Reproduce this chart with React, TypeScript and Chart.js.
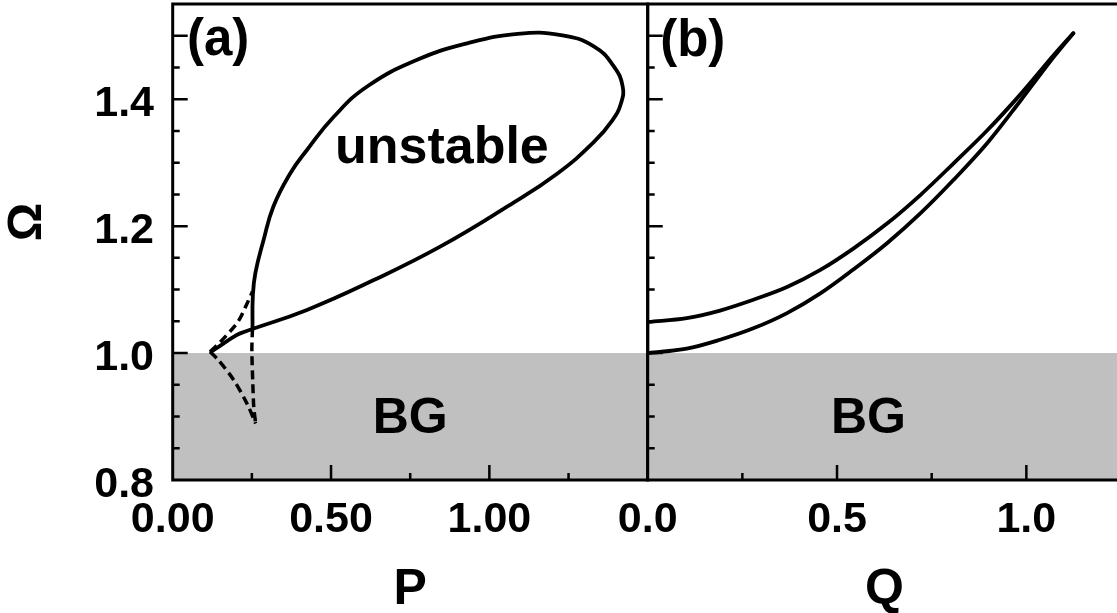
import React, { useEffect, useRef } from "react";
import { Chart, registerables } from "chart.js";

Chart.register(...registerables);

const FONT = "'Liberation Sans', Arial, Helvetica, sans-serif";

// ---------- Panel (a): Omega vs P ----------
const loopP = [0.122, 0.160, 0.191, 0.213, 0.424, 0.635, 0.846, 1.057, 1.215, 1.331, 1.389, 1.416, 1.421, 1.394, 1.331, 1.226, 1.089, 0.930, 0.772, 0.614, 0.508, 0.424, 0.371, 0.318, 0.287, 0.261, 0.253, 0.252];
const loopOmega = [1.002, 1.015, 1.025, 1.031, 1.068, 1.115, 1.168, 1.231, 1.283, 1.333, 1.367, 1.394, 1.420, 1.451, 1.483, 1.501, 1.503, 1.488, 1.462, 1.420, 1.372, 1.320, 1.283, 1.231, 1.178, 1.126, 1.089, 1.039];

const cuspUpperP = [0.118, 0.155, 0.195, 0.213, 0.232, 0.252];
const cuspUpperOmega = [1.002, 1.020, 1.042, 1.055, 1.075, 1.097];

const cuspLowerP = [0.118, 0.144, 0.192, 0.234, 0.262];
const cuspLowerOmega = [1.002, 0.989, 0.958, 0.921, 0.889];

const cuspVerticalP = [0.252, 0.250, 0.253, 0.256, 0.262];
const cuspVerticalOmega = [1.039, 1.005, 0.952, 0.915, 0.889];

// ---------- Panel (b): Omega vs Q ----------
const qValues = [0.002, 0.103, 0.191, 0.279, 0.368, 0.456, 0.544, 0.632, 0.720, 0.808, 0.897, 0.985, 1.073, 1.124];
const upperOmega = [1.049, 1.055, 1.067, 1.084, 1.104, 1.131, 1.165, 1.204, 1.249, 1.299, 1.351, 1.408, 1.470, 1.504];
const lowerOmega = [1.000, 1.007, 1.021, 1.039, 1.063, 1.094, 1.132, 1.173, 1.220, 1.273, 1.331, 1.398, 1.467, 1.504];

// band gap boundary
const bgEdge = 1.0;

// ---------- Axes / ticks ----------
const omegaRange = [0.8, 1.55];
const pRange = [0, 1.5];
const qRange = [0, 1.25];
const omegaTickLabels = [0.8, 1.0, 1.2, 1.4];
const pTickLabels = [0, 0.5, 1.0];
const qTickLabels = [0, 0.5, 1.0];
const omegaLongTicks = [1.0, 1.2, 1.4, 1.5];
const omegaShortTicks = [0.85, 0.9, 0.95, 1.05, 1.1, 1.15, 1.25, 1.3, 1.35, 1.45];
const pLongTicks = [0.5, 1.0];
const pShortTicks = [0.25, 0.75, 1.25];
const qLongTicks = [0.5, 1.0];
const qShortTicks = [0.25, 0.75];

const zip = (xs: number[], ys: number[]) => xs.map((x, i) => ({ x, y: ys[i] }));

type Txt = { text: string; x: number; y: number; size: number; align: CanvasTextAlign };
type Deco = {
  xLong: number[];
  xShort: number[];
  yLong: number[];
  yShort: number[];
  drawRight: boolean;
  texts: Txt[];
};

function decoPlugin(d: Deco) {
  return {
    id: "deco",
    afterDatasetsDraw(chart: any) {
      const { ctx, chartArea: a, scales } = chart;
      const xs = scales.x;
      const ys = scales.y;
      ctx.save();
      ctx.strokeStyle = "#000";
      ctx.lineWidth = 2.5;
      ctx.lineCap = "butt";
      ctx.beginPath();
      const LONG = 15;
      const SHORT = 7;
      d.xLong.forEach((v) => {
        const px = xs.getPixelForValue(v);
        ctx.moveTo(px, a.bottom);
        ctx.lineTo(px, a.bottom - LONG);
      });
      d.xShort.forEach((v) => {
        const px = xs.getPixelForValue(v);
        ctx.moveTo(px, a.bottom);
        ctx.lineTo(px, a.bottom - SHORT);
      });
      d.yLong.forEach((v) => {
        const py = ys.getPixelForValue(v);
        ctx.moveTo(a.left, py);
        ctx.lineTo(a.left + LONG, py);
      });
      d.yShort.forEach((v) => {
        const py = ys.getPixelForValue(v);
        ctx.moveTo(a.left, py);
        ctx.lineTo(a.left + SHORT, py);
      });
      ctx.stroke();

      ctx.lineWidth = 3;
      ctx.beginPath();
      ctx.moveTo(a.left, a.top - 1.5);
      ctx.lineTo(a.left, a.bottom + 1.5);
      ctx.moveTo(a.left, a.bottom);
      ctx.lineTo(a.right, a.bottom);
      ctx.moveTo(a.left, a.top);
      ctx.lineTo(a.right, a.top);
      if (d.drawRight) {
        ctx.moveTo(a.right, a.top - 1.5);
        ctx.lineTo(a.right, a.bottom + 1.5);
      }
      ctx.stroke();

      ctx.fillStyle = "#000";
      ctx.textBaseline = "alphabetic";
      d.texts.forEach((t) => {
        ctx.font = `bold ${t.size}px ${FONT}`;
        ctx.textAlign = t.align;
        ctx.fillText(t.text, xs.getPixelForValue(t.x), ys.getPixelForValue(t.y));
      });
      ctx.restore();
    },
  };
}

const tickFont = { family: FONT, size: 43, weight: "bold" as const, lineHeight: 1.2 };
const titleFont = { family: FONT, size: 50, weight: "bold" as const, lineHeight: 1 };

const solid = (data: { x: number; y: number }[], tension: number) => ({
  data,
  borderColor: "#000",
  borderWidth: 3.8,
  pointRadius: 0,
  tension,
  fill: false,
  borderCapStyle: "round" as const,
  borderJoinStyle: "round" as const,
});

const dashed = (data: { x: number; y: number }[]) => ({
  data,
  borderColor: "#000",
  borderWidth: 3.5,
  borderDash: [9, 5],
  pointRadius: 0,
  tension: 0.3,
  fill: false,
});

const band = (xMax: number) => ({
  data: [
    { x: 0, y: bgEdge },
    { x: xMax, y: bgEdge },
  ],
  borderWidth: 0,
  borderColor: "rgba(0,0,0,0)",
  backgroundColor: "#c0c0c0",
  pointRadius: 0,
  fill: "start",
  order: 10,
});

function xScale(range: number[], ticks: number[], digits: number, title: string) {
  return {
    type: "linear" as const,
    min: range[0],
    max: range[1],
    grid: { display: false, drawTicks: false },
    border: { display: false },
    afterBuildTicks: (s: any) => {
      s.ticks = ticks.map((v) => ({ value: v }));
    },
    afterFit: (s: any) => {
      s.height = 133;
      s.paddingLeft = 0;
      s.paddingRight = 0;
    },
    ticks: {
      font: tickFont,
      color: "#000",
      padding: 14,
      autoSkip: false,
      maxRotation: 0,
      minRotation: 0,
      callback: (v: any) => Number(v).toFixed(digits),
    },
    title: {
      display: true,
      text: title,
      font: titleFont,
      color: "#000",
      padding: { top: 0, bottom: -2 },
    },
  };
}

function configA(): any {
  return {
    type: "line",
    data: {
      datasets: [
        solid(zip(loopP, loopOmega), 0.45),
        dashed(zip(cuspUpperP, cuspUpperOmega)),
        dashed(zip(cuspLowerP, cuspLowerOmega)),
        dashed(zip(cuspVerticalP, cuspVerticalOmega)),
        band(pRange[1]),
      ],
    },
    options: {
      animation: false,
      responsive: true,
      maintainAspectRatio: false,
      events: [],
      layout: { padding: { left: 0, top: 4, right: 52.3, bottom: 0 } },
      plugins: { legend: { display: false }, tooltip: { enabled: false } },
      scales: {
        x: xScale(pRange, pTickLabels, 2, "P"),
        y: {
          type: "linear",
          min: omegaRange[0],
          max: omegaRange[1],
          grid: { display: false, drawTicks: false },
          border: { display: false },
          afterBuildTicks: (s: any) => {
            s.ticks = omegaTickLabels.map((v) => ({ value: v }));
          },
          afterFit: (s: any) => {
            s.width = 172.7;
            s.paddingTop = 0;
            s.paddingBottom = 0;
          },
          ticks: {
            font: tickFont,
            color: "#000",
            padding: 18.7,
            labelOffset: 5,
            autoSkip: false,
            callback: (v: any) => Number(v).toFixed(1),
          },
          title: {
            display: true,
            text: "\u00A0\u00A0\u00A0Ω",
            font: { family: FONT, size: 48, weight: "bold", lineHeight: 1 },
            color: "#000",
            padding: { top: 4, bottom: 0 },
          },
        },
      },
    },
    plugins: [
      decoPlugin({
        xLong: pLongTicks,
        xShort: pShortTicks,
        yLong: omegaLongTicks,
        yShort: omegaShortTicks,
        drawRight: true,
        texts: [
          { text: "(a)", x: 0.045, y: 1.47, size: 51, align: "left" },
          { text: "unstable", x: 0.85, y: 1.3, size: 52, align: "center" },
          { text: "BG", x: 0.75, y: 0.874, size: 50, align: "center" },
        ],
      }),
    ],
  };
}

function configB(): any {
  return {
    type: "line",
    data: {
      datasets: [
        solid(zip(qValues, upperOmega), 0.35),
        solid(zip(qValues, lowerOmega), 0.35),
        band(qRange[1]),
      ],
    },
    options: {
      animation: false,
      responsive: true,
      maintainAspectRatio: false,
      events: [],
      layout: { padding: { left: 47.7, top: 4, right: 0, bottom: 0 } },
      plugins: { legend: { display: false }, tooltip: { enabled: false } },
      scales: {
        x: xScale(qRange, qTickLabels, 1, "Q"),
        y: {
          type: "linear",
          display: false,
          min: omegaRange[0],
          max: omegaRange[1],
        },
      },
    },
    plugins: [
      decoPlugin({
        xLong: qLongTicks,
        xShort: qShortTicks,
        yLong: omegaLongTicks,
        yShort: omegaShortTicks,
        drawRight: false,
        texts: [
          { text: "(b)", x: 0.033, y: 1.468, size: 51, align: "left" },
          { text: "BG", x: 0.583, y: 0.874, size: 50, align: "center" },
        ],
      }),
    ],
  };
}

function Panel({ left, width, make }: { left: number; width: number; make: () => any }) {
  const ref = useRef<HTMLCanvasElement | null>(null);
  useEffect(() => {
    if (!ref.current) return;
    const chart = new Chart(ref.current, make());
    return () => chart.destroy();
  }, [make]);
  return (
    <div style={{ position: "absolute", left, top: 0, width, height: 613 }}>
      <canvas ref={ref} />
    </div>
  );
}

export default function App() {
  return (
    <div
      style={{
        position: "absolute",
        left: 0,
        top: 0,
        width: 1117,
        height: 613,
        overflow: "hidden",
        background: "#fff",
      }}
    >
      <Panel left={0} width={700} make={configA} />
      <Panel left={600} width={521} make={configB} />
    </div>
  );
}
